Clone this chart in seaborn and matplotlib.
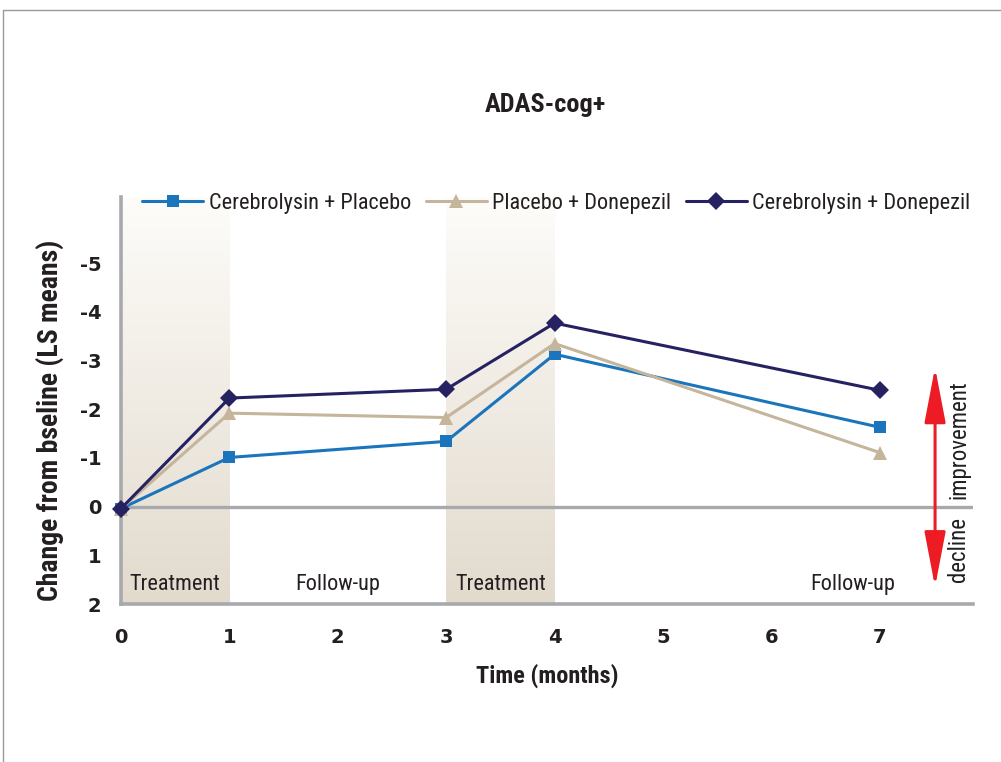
import numpy as np
import pandas as pd
import matplotlib
matplotlib.use("Agg")
import matplotlib.pyplot as plt
import seaborn as sns
from matplotlib import font_manager
from matplotlib.lines import Line2D
from matplotlib.patches import FancyArrowPatch

# data
months = [0, 1, 3, 4, 7]
cereb_placebo = [0.04, -1.01, -1.34, -3.13, -1.63]
placebo_donep = [0.04, -1.92, -1.83, -3.35, -1.11]
cereb_donep = [0.04, -2.23, -2.41, -3.77, -2.39]
series_names = ["Cerebrolysin + Placebo", "Placebo + Donepezil", "Cerebrolysin + Donepezil"]
y_ticks = [-5, -4, -3, -2, -1, 0, 1, 2]
y_tick_labels = ["-5", "-4", "-3", "-2", "-1", "0", "1", "2"]
x_ticks = [0, 1, 2, 3, 4, 5, 6, 7]
treatment_spans = [(0, 1), (3, 4)]

colors = ["#1b75bc", "#c4b59b", "#262262"]
markers = ["s", "^", "D"]
msizes = [9, 10.5, 9]
gray = "#a7a9ac"
dark = "#231f20"

sns.set_style("white")
fam = "DejaVu Sans"
for cand in ["Roboto Condensed", "Liberation Sans Narrow", "Liberation Sans"]:
    try:
        font_manager.findfont(cand, fallback_to_default=False)
        fam = cand
        break
    except Exception:
        pass
plt.rcParams["font.family"] = [fam, "DejaVu Sans"]
plt.rcParams["axes.unicode_minus"] = False
tick_font = ["DejaVu Sans"]

fig = plt.figure(figsize=(10.01, 7.62), dpi=100)
ax = fig.add_axes([121 / 1001, 158 / 762, 852 / 1001, 407 / 762])

ylo, yhi = 2.0, -6.36
xmax = 7.86

# gradient shading for treatment periods
top_c = np.array([0.995, 0.99, 0.98])
bot_c = np.array([0.886, 0.855, 0.804])
t = np.linspace(0, 1, 256)[:, None]
grad = top_c[None, :] * (1 - t) + bot_c[None, :] * t
grad = grad[:, None, :]
for a, b in treatment_spans:
    ax.imshow(grad, extent=(a, b, ylo, yhi), aspect="auto", origin="upper", zorder=0)

ax.axhline(0, color=gray, lw=2.4, zorder=1)

df = pd.DataFrame({
    "month": months * 3,
    "change": cereb_placebo + placebo_donep + cereb_donep,
    "group": [n for n in series_names for _ in months],
})
for name, c, m, ms in zip(series_names, colors, markers, msizes):
    sub = df[df["group"] == name]
    sns.lineplot(data=sub, x="month", y="change", ax=ax, color=c, marker=m,
                 markersize=ms, markeredgewidth=0, lw=2.2, label=name,
                 clip_on=False, zorder=3)

ax.set_xlim(0, xmax)
ax.set_ylim(ylo, yhi)
ax.set_xticks(x_ticks)
ax.set_xticklabels([str(v) for v in x_ticks], fontweight="bold", fontsize=14,
                   color=dark, family=tick_font)
ax.set_yticks(y_ticks)
ax.set_yticklabels(y_tick_labels, fontweight="bold", fontsize=14, color=dark,
                   family=tick_font)
ax.tick_params(axis="both", direction="out", length=6, width=2, color=gray)
ax.tick_params(axis="x", pad=11)
ax.tick_params(axis="y", pad=8)
for s in ["top", "right"]:
    ax.spines[s].set_visible(False)
for s in ["left", "bottom"]:
    ax.spines[s].set_color(gray)
    ax.spines[s].set_linewidth(2.6)

ax.set_xlabel("Time (months)", fontweight="bold", fontsize=17.5, color=dark, labelpad=12)
ax.set_ylabel("Change from bseline (LS means)", fontweight="bold", fontsize=20, color=dark)
ax.yaxis.set_label_coords((64 - 121) / 852, (604 - 420) / 407)

# period labels
ax.text(0.5, 1.6, "Treatment", ha="center", va="center", fontsize=16, color=dark)
ax.text(2.0, 1.6, "Follow-up", ha="center", va="center", fontsize=16, color=dark)
ax.text(3.5, 1.6, "Treatment", ha="center", va="center", fontsize=16, color=dark)
ax.text(6.75, 1.6, "Follow-up", ha="center", va="center", fontsize=16, color=dark)

# improvement / decline arrow
arr = FancyArrowPatch((7.51, -2.86), (7.51, 1.65),
                      arrowstyle="<|-|>,head_length=3.4,head_width=0.65",
                      mutation_scale=10, color="#ed1c24", lw=2.2, zorder=4,
                      shrinkA=0, shrinkB=0)
ax.add_patch(arr)
ax.text(7.73, -1.38, "improvement", rotation=90, ha="center", va="center", fontsize=16.5, color=dark)
ax.text(7.73, 0.88, "decline", rotation=90, ha="center", va="center", fontsize=16.5, color=dark)

leg = ax.legend(loc="center left", bbox_to_anchor=(0.025, (604 - 203) / 407), ncol=3,
                frameon=False, fontsize=16, handlelength=2.75, handletextpad=0.25,
                columnspacing=0.65, borderpad=0, borderaxespad=0)
for txt in leg.get_texts():
    txt.set_color(dark)

fig.text(545 / 1001, 1 - 105 / 762, "ADAS-cog+", ha="center", va="center",
         fontsize=19, fontweight="bold", color=dark)

# outer frame lines
fig.add_artist(Line2D([3 / 1001, 3 / 1001], [0, 1 - 10 / 762], transform=fig.transFigure, color="#9a9a9a", lw=1))
fig.add_artist(Line2D([3 / 1001, 1], [1 - 10 / 762, 1 - 10 / 762], transform=fig.transFigure, color="#9a9a9a", lw=1))

fig.savefig("out.png", dpi=100)
